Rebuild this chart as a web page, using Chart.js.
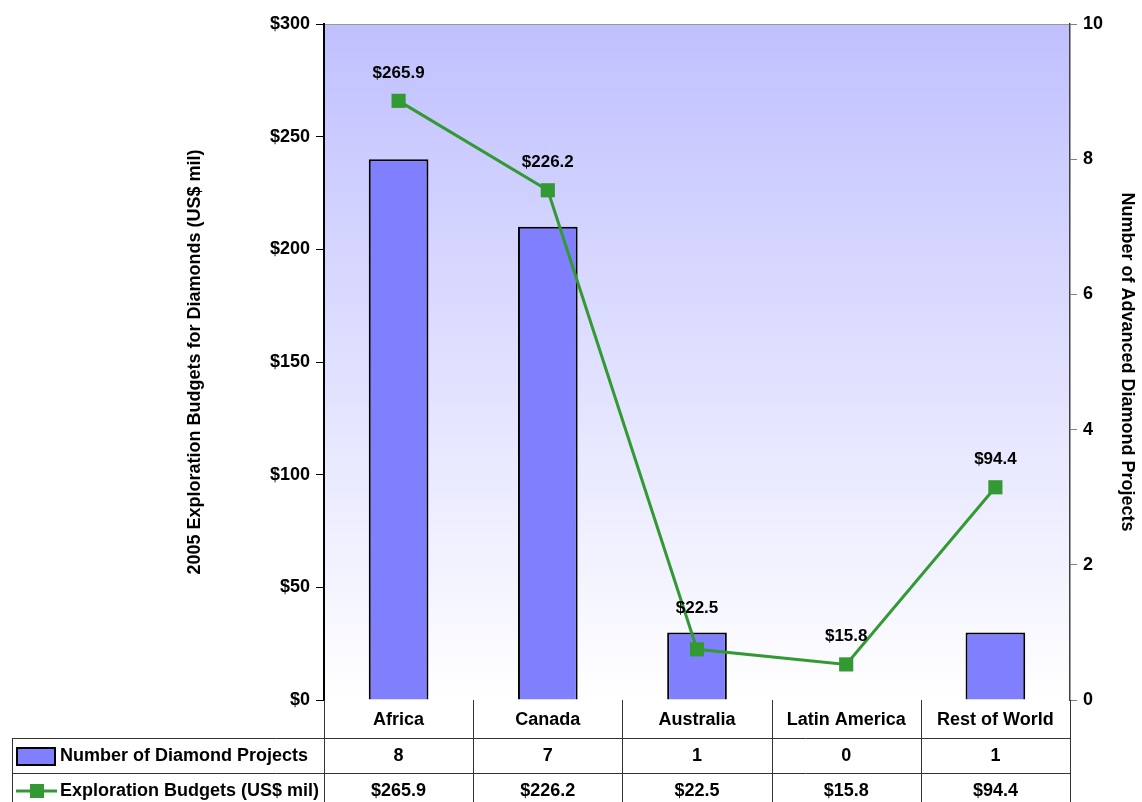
<!DOCTYPE html>
<html>
<head>
<meta charset="utf-8">
<script src="https://cdn.jsdelivr.net/npm/chart.js@4.4.1/dist/chart.umd.min.js"></script>
<style>
  html, body { margin: 0; padding: 0; background: #fff; }
  #wrap { width: 1142px; height: 802px; position: relative; }
</style>
</head>
<body>
<div id="wrap"><canvas id="chart" width="1142" height="802"></canvas></div>
<script>
// ===== data =====
const regions = ["Africa", "Canada", "Australia", "Latin America", "Rest of World"];
const projectCounts = [8, 7, 1, 0, 1];
const budgets = [265.9, 226.2, 22.5, 15.8, 94.4];
const budgetTicks = [0, 50, 100, 150, 200, 250, 300];
const countTicks = [0, 2, 4, 6, 8, 10];

const barLabel = "Number of Diamond Projects";
const lineLabel = "Exploration Budgets (US$ mil)";
const leftTitle = "2005 Exploration Budgets for Diamonds (US$ mil)";
const rightTitle = "Number of Advanced Diamond Projects";

const FONT = "'Liberation Sans Narrow', 'Arial Narrow', 'Liberation Sans', Arial, sans-serif";
const BAR_COLOR = "#8080ff";
const LINE_COLOR = "#339933";
const money = v => "$" + v.toFixed(1);

// plot area gradient
const bgPlugin = {
  id: "bg",
  beforeDraw(chart){
    const { ctx, chartArea: a } = chart;
    const g = ctx.createLinearGradient(0, a.top, 0, a.bottom);
    g.addColorStop(0, "#c0c0ff");
    g.addColorStop(1, "#ffffff");
    ctx.save();
    ctx.fillStyle = g;
    ctx.fillRect(a.left, a.top, a.right - a.left, a.bottom - a.top);
    ctx.strokeStyle = "#999999";
    ctx.lineWidth = 1;
    ctx.beginPath();
    ctx.moveTo(a.left, a.top + 0.5);
    ctx.lineTo(a.right, a.top + 0.5);
    ctx.stroke();
    ctx.restore();
  }
};

// data table + point labels
const tablePlugin = {
  id: "table",
  afterDraw(chart){
    const { ctx, chartArea: a, scales } = chart;
    const x = scales.x;
    const yL = scales.yL;
    const yR = scales.yR;
    const tableLeft = 12;
    const r1 = a.bottom + 38, r2 = a.bottom + 73, r3 = chart.height;
    ctx.save();

    // grid of the table
    ctx.strokeStyle = "#333333";
    ctx.lineWidth = 1;
    ctx.beginPath();
    for (let i = 0; i <= regions.length; i++){
      const px = Math.round(i === 0 ? a.left : i === regions.length ? a.right : (x.getPixelForValue(i - 1) + x.getPixelForValue(i)) / 2) + 0.5;
      ctx.moveTo(px, a.bottom);
      ctx.lineTo(px, r3);
    }
    ctx.moveTo(tableLeft + 0.5, r1);
    ctx.lineTo(tableLeft + 0.5, r3);
    ctx.moveTo(tableLeft, r1 + 0.5);
    ctx.lineTo(a.right, r1 + 0.5);
    ctx.moveTo(tableLeft, r2 + 0.5);
    ctx.lineTo(a.right, r2 + 0.5);
    ctx.stroke();

    // legend keys
    ctx.fillStyle = BAR_COLOR;
    ctx.fillRect(17, r1 + 10, 38, 17);
    ctx.strokeStyle = "#000";
    ctx.lineWidth = 2;
    ctx.strokeRect(17, r1 + 10, 38, 17);
    const ly = r2 + 18;
    ctx.strokeStyle = LINE_COLOR;
    ctx.lineWidth = 3;
    ctx.beginPath();
    ctx.moveTo(16, ly);
    ctx.lineTo(57, ly);
    ctx.stroke();
    ctx.fillStyle = LINE_COLOR;
    ctx.fillRect(30, ly - 7, 14, 14);

    // row texts
    ctx.fillStyle = "#000";
    ctx.font = "bold 18px " + FONT;
    ctx.textBaseline = "middle";
    ctx.textAlign = "left";
    ctx.fillText(barLabel, 60, (r1 + r2) / 2 + 1);
    ctx.fillText(lineLabel, 60, ly);
    ctx.textAlign = "center";
    regions.forEach((r, i) => {
      const px = x.getPixelForValue(i);
      ctx.fillText(String(projectCounts[i]), px, (r1 + r2) / 2 + 1);
      ctx.fillText(money(budgets[i]), px, ly);
    });

    // point labels
    ctx.font = "bold 17px " + FONT;
    budgets.forEach((v, i) => {
      const px = x.getPixelForValue(i);
      let py = yL.getPixelForValue(v) - 28;
      const barTop = yR.getPixelForValue(projectCounts[i]);
      if (barTop - py > 0 && barTop - py < 20) py = barTop - 24;
      ctx.fillText(money(v), px, py);
    });
    ctx.restore();
  }
};

const tickFont = { family: FONT, size: 18, weight: "bold" };
const titleFont = { family: FONT, size: 18, weight: "bold" };

new Chart(document.getElementById("chart"), {
  data: {
    labels: regions,
    datasets: [
      {
        type: "line",
        label: lineLabel,
        data: budgets,
        yAxisID: "yL",
        borderColor: LINE_COLOR,
        backgroundColor: LINE_COLOR,
        borderWidth: 3,
        pointStyle: "rect",
        pointRadius: 10,
        pointHoverRadius: 10,
        pointBorderWidth: 0,
        tension: 0,
        order: 0
      },
      {
        type: "bar",
        label: barLabel,
        data: projectCounts,
        yAxisID: "yR",
        backgroundColor: BAR_COLOR,
        borderColor: "#000",
        borderWidth: 2,
        barPercentage: 0.4,
        categoryPercentage: 1,
        order: 1
      }
    ]
  },
  options: {
    responsive: false,
    animation: false,
    layout: { padding: { left: 180, right: 0, top: 24, bottom: 0 } },
    plugins: { legend: { display: false }, tooltip: { enabled: false } },
    scales: {
      x: {
        grid: { display: false },
        border: { display: false },
        ticks: { color: "#000", font: tickFont, padding: 1, maxRotation: 0 },
        afterFit(s){ s.height = 102; }
      },
      yL: {
        position: "left",
        min: 0, max: 300,
        afterBuildTicks(s){ s.ticks = budgetTicks.map(v => ({ value: v })); },
        ticks: { color: "#000", font: tickFont, padding: 6, callback: v => "$" + v },
        grid: { drawOnChartArea: false, color: "#000", tickLength: 8 },
        border: { color: "#000", width: 2 },
        title: { display: true, text: leftTitle, color: "#000", font: titleFont, padding: { top: 4, bottom: 0 } },
        afterFit(s){ s.width = 144; }
      },
      yR: {
        position: "right",
        min: 0, max: 10,
        afterBuildTicks(s){ s.ticks = countTicks.map(v => ({ value: v })); },
        ticks: { color: "#000", font: tickFont, padding: 6 },
        grid: { drawOnChartArea: false, color: "#808080", tickLength: 7 },
        border: { color: "#404040", width: 1.5 },
        title: { display: true, text: rightTitle, color: "#000", font: titleFont, padding: { top: 4, bottom: 0 } },
        afterFit(s){ s.width = 72; }
      }
    }
  },
  plugins: [bgPlugin, tablePlugin]
});
</script>
</body>
</html>
